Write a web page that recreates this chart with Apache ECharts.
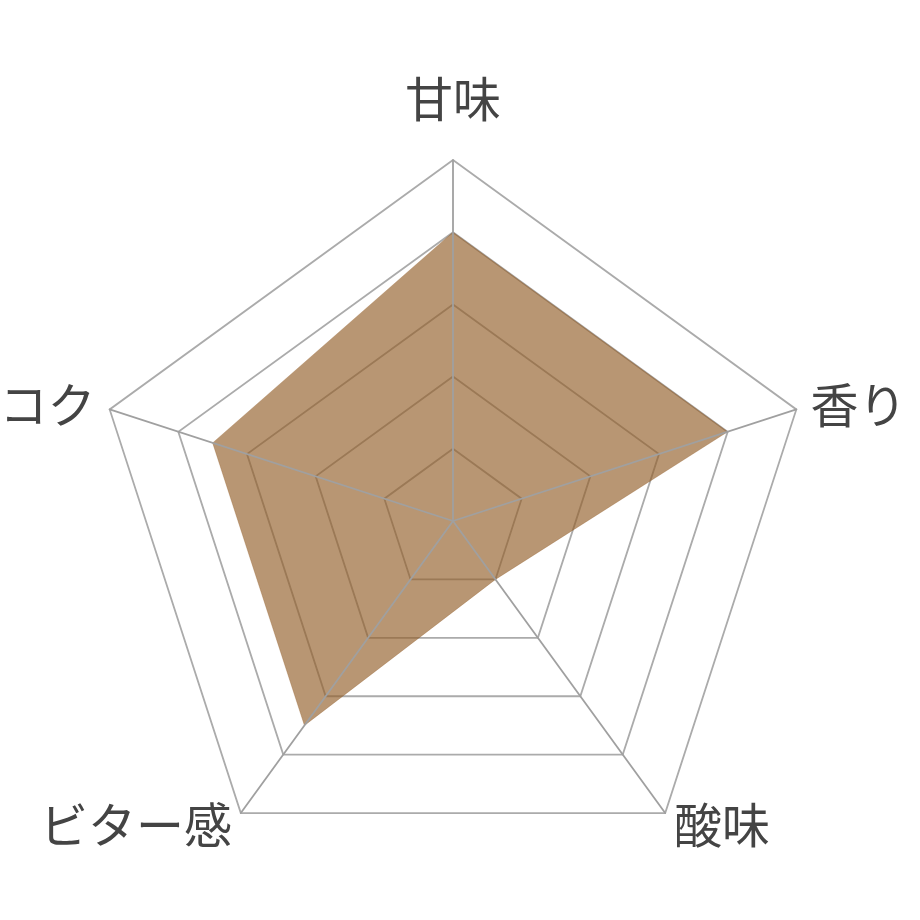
<!DOCTYPE html>
<html>
<head>
<meta charset="utf-8">
<script src="https://cdn.jsdelivr.net/npm/echarts@6/dist/echarts.min.js"></script>
<style>
  html, body { margin: 0; padding: 0; background: #fff; }
  #chart { width: 920px; height: 920px; }
</style>
</head>
<body>
<div id="chart"></div>
<script>
// Indicators listed counterclockwise from the top (ECharts radar order)
const indicatorNames = ['甘味', 'コク', 'ビター感', '酸味', '香り'];
const tasteValues = [4, 3.5, 3.5, 1, 4];
const maxValue = 5;

const chart = echarts.init(document.getElementById('chart'));

const center = [453, 521];
const radius = 361;
const fontFamily = '"Noto Sans CJK JP", "Noto Sans", sans-serif';

chart.setOption({
  backgroundColor: '#fff',
  radar: [
    {
      center,
      radius,
      startAngle: 90,
      splitNumber: 5,
      shape: 'polygon',
      indicator: indicatorNames.map((name) => ({ name, max: maxValue })),
      axisName: {
        color: '#444',
        fontSize: 48,
        fontFamily,
        // push the top label further up than the others
        formatter: (name) => (name === '甘味' ? `{top|${name}}` : name),
        rich: {
          top: { fontSize: 48, lineHeight: 92, color: '#444', fontFamily },
        },
      },
      nameGap: 15,
      splitLine: { lineStyle: { color: '#ababab', width: 1.8 } },
      splitArea: { show: false },
      axisLine: { show: false },
    },
    {
      // overlay: spokes drawn above the filled area
      center,
      radius,
      startAngle: 90,
      splitNumber: 5,
      shape: 'polygon',
      z: 10,
      indicator: indicatorNames.map((name) => ({ name, max: maxValue })),
      axisName: { show: false },
      splitLine: { show: false },
      splitArea: { show: false },
      axisLine: { lineStyle: { color: '#a0a0a0', width: 1.8 } },
    },
  ],
  series: [
    {
      type: 'radar',
      radarIndex: 0,
      symbol: 'none',
      lineStyle: { width: 0.5, color: 'rgba(146,93,40,0.65)' },
      areaStyle: { color: 'rgba(146,93,40,0.65)', opacity: 1 },
      data: [{ value: tasteValues, name: 'taste' }],
    },
  ],
});
</script>
</body>
</html>
